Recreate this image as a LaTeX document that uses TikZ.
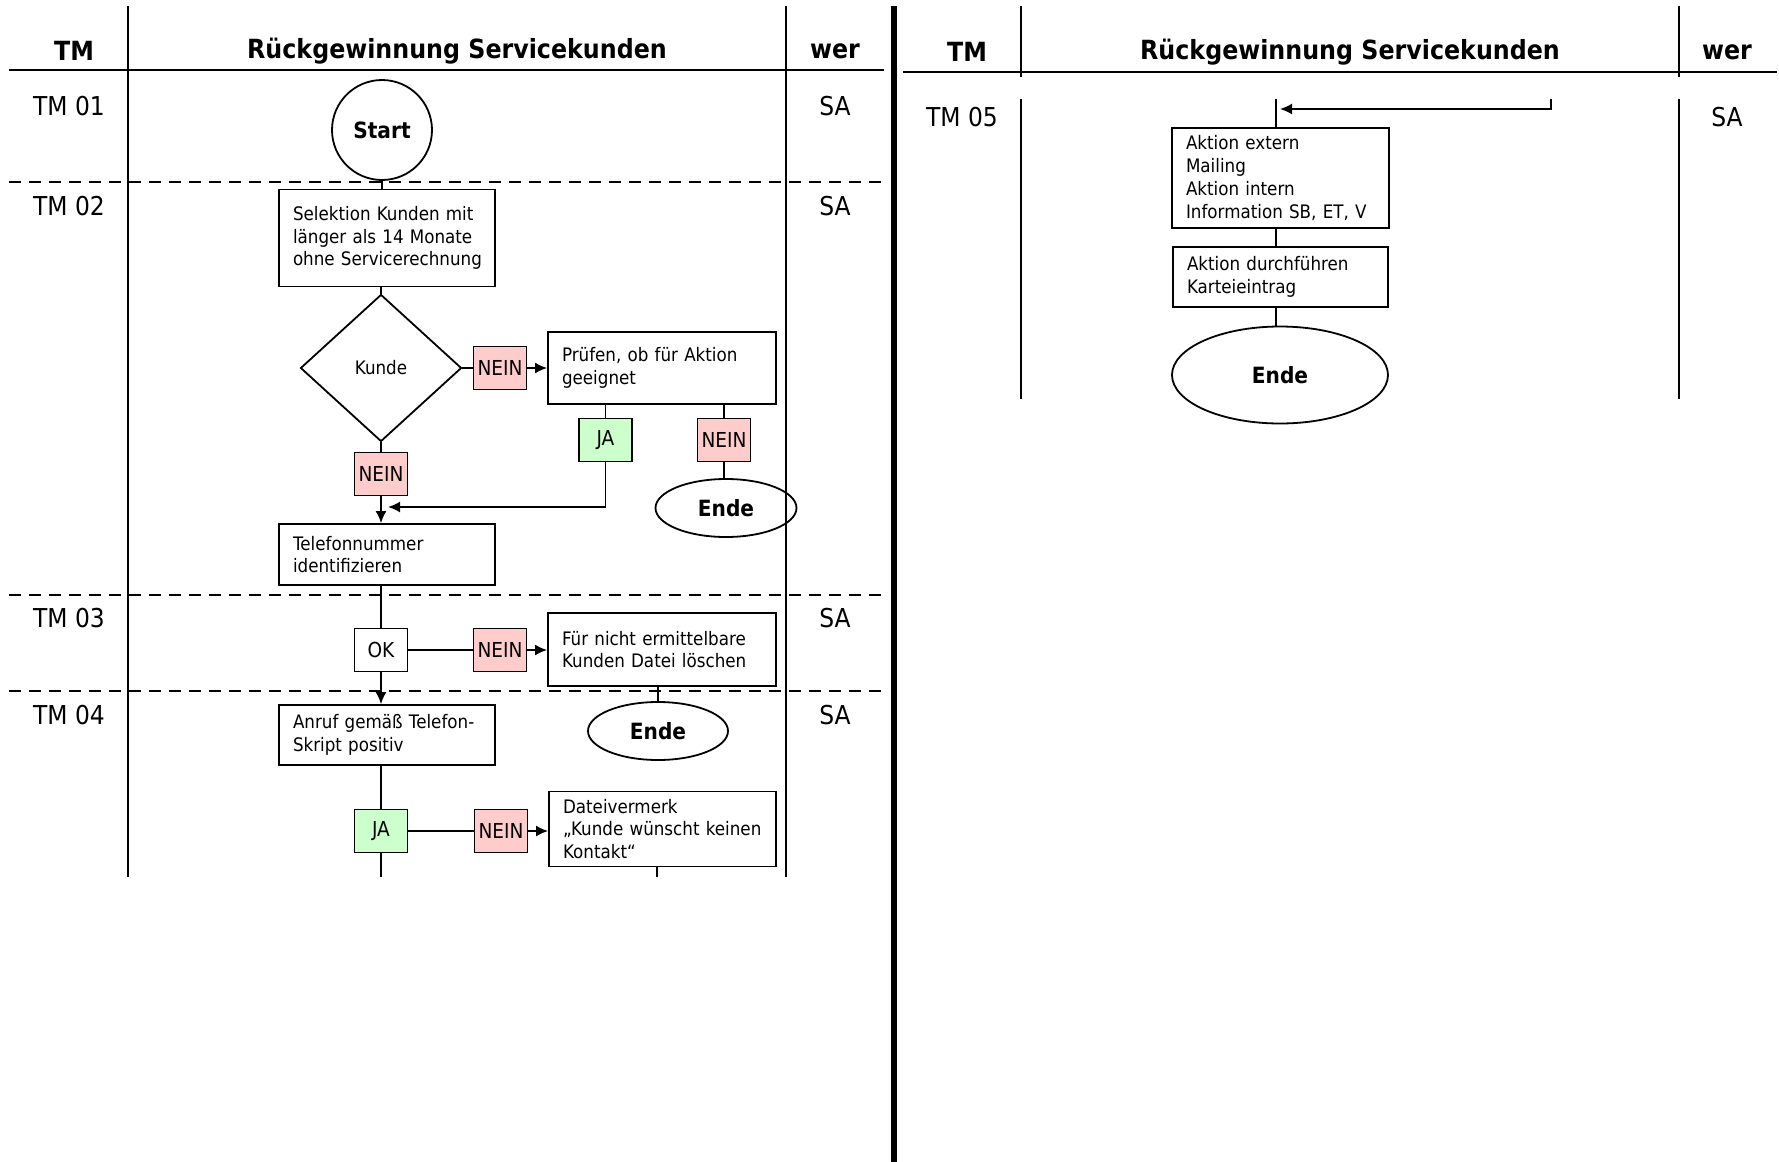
\documentclass[tikz,border=0pt]{standalone}
\usepackage{fontspec}
\setmainfont{DejaVu Sans}[FakeStretch=0.9]
\usetikzlibrary{shapes.geometric,arrows.meta}
\definecolor{pinkc}{RGB}{255,204,204}
\definecolor{greenc}{RGB}{204,255,204}
\begin{document}
\begin{tikzpicture}[x=0.5pt,y=-0.5pt,
 ln/.style={line width=0.9pt},
 frame/.style={line width=0.9pt},
 hline/.style={line width=1.1pt},
 dsh/.style={line width=0.9pt, dash pattern=on 6pt off 4pt},
 box/.style={draw, line width=0.9pt, rectangle, align=left, inner xsep=7pt, inner ysep=0pt, font=\fontsize{9.3}{11.4}\selectfont},
 lbl/.style={draw, line width=0.9pt, minimum width=26.5pt, minimum height=21.5pt, inner sep=0pt, font=\fontsize{10.3}{12}\selectfont},
 nein/.style={lbl, fill=pinkc},
 ja/.style={lbl, fill=greenc},
 term/.style={draw, line width=0.9pt, ellipse, inner sep=0pt, font=\bfseries\fontsize{11.2}{13}\selectfont},
 arr/.style={line width=0.9pt, -{Latex[length=6pt,width=5.5pt]}},
 hd/.style={font=\bfseries\fontsize{13.2}{15}\selectfont},
 tml/.style={font=\fontsize{13}{15}\selectfont},
]
\fill[white] (0,0) rectangle (1779,1162);
\useasboundingbox (0,0) rectangle (1779,1162);

% ---------- left panel frame ----------
\draw[frame] (128,6) -- (128,877);
\draw[frame] (786,6) -- (786,877);
\draw[hline] (9,70) -- (884,70);
\draw[dsh] (9,182) -- (884,182);
\draw[dsh] (9,595) -- (884,595);
\draw[dsh] (9,691) -- (884,691);
\draw[line width=2.6pt] (894,6) -- (894,1162);

\node[hd] (lh1) at (74,51) {TM};
\node[hd] (lh2) at (457,51) {Rückgewinnung Servicekunden};
\node[hd] (lh3) at (835,51) {wer};

\node[tml] (tm1) at (69,106) {TM 01};
\node[tml] (tm2) at (69,206) {TM 02};
\node[tml] (tm3) at (69,618) {TM 03};
\node[tml] (tm4) at (69,715) {TM 04};
\node[tml] (sa1) at (835,106) {SA};
\node[tml] (sa2) at (835,206) {SA};
\node[tml] (sa3) at (835,618) {SA};
\node[tml] (sa4) at (835,715) {SA};

% ---------- left panel nodes ----------
\node[draw, line width=0.9pt, circle, inner sep=0pt, minimum size=50pt, font=\bfseries\fontsize{11.2}{13}\selectfont] (start) at (382,130) {Start};
\node[box, text width=94pt, minimum height=48.5pt] (sel) at (387,238) {\mbox{Selektion Kunden mit}\\\mbox{länger als 14 Monate}\\\mbox{ohne Servicerechnung}};
\node[draw, line width=0.9pt, diamond, inner sep=0pt, minimum width=80.5pt, minimum height=73.5pt, font=\fontsize{9.3}{11}\selectfont] (dia) at (381,368) {Kunde};
\node[nein] (n1) at (500,368) {NEIN};
\node[box, text width=100pt, minimum height=36pt] (pruef) at (662,368) {Prüfen, ob für Aktion\\geeignet};
\node[ja] (ja1) at (605.5,440) {JA};
\node[nein] (n2) at (724,440) {NEIN};
\node[term, minimum width=70.5pt, minimum height=29pt] (ende1) at (726,508) {Ende};
\node[nein] (n3) at (381,474) {NEIN};
\node[box, text width=94pt, minimum height=30.5pt] (tel) at (387,554.5) {Telefonnummer\\identifizieren};
\node[lbl] (ok) at (381,650) {OK};
\node[nein] (n4) at (500,650) {NEIN};
\node[box, text width=100pt, minimum height=36.5pt] (fuer) at (662,649.5) {\mbox{Für nicht ermittelbare}\\\mbox{Kunden Datei löschen}};
\node[term, minimum width=70pt, minimum height=29pt] (ende2) at (658,731) {Ende};
\node[box, text width=94pt, minimum height=30pt] (anruf) at (387,735) {\mbox{Anruf gemäß Telefon-}\\Skript positiv};
\node[ja] (ja2) at (381,831) {JA};
\node[nein] (n5) at (501,831) {NEIN};
\node[box, text width=99.5pt, minimum height=37.5pt] (datei) at (662.5,829) {Dateivermerk\\\mbox{„Kunde wünscht keinen}\\Kontakt“};

\coordinate (merge) at (388,507);
\coordinate (end1) at (381,877);
\coordinate (end2) at (657,877);

% ---------- left connectors ----------
\draw[ln] (start.south) -- (start.south |- sel.north);
\draw[ln] (dia.north |- sel.south) -- (dia.north);
\draw[ln] (dia.east) -- (n1.west);
\draw[arr] (n1.east) -- (pruef.west);
\draw[ln] (ja1.north |- pruef.south) -- (ja1.north);
\draw[ln] (n2.north |- pruef.south) -- (n2.north);
\draw[ln] (n2.south) -- (n2.south |- ende1.north);
\draw[arr] (ja1.south) |- (merge);
\draw[ln] (dia.south) -- (n3.north);
\draw[arr] (n3.south) -- (n3.south |- tel.north);
\draw[ln] (ok.north |- tel.south) -- (ok.north);
\draw[ln] (ok.east) -- (n4.west);
\draw[arr] (n4.east) -- (n4.east -| fuer.west);
\draw[ln] (ende2.north |- fuer.south) -- (ende2.north);
\draw[arr] (ok.south) -- (ok.south |- anruf.north);
\draw[ln] (ja2.north |- anruf.south) -- (ja2.north);
\draw[ln] (ja2.east) -- (n5.west);
\draw[arr] (n5.east) -- (n5.east -| datei.west);
\draw[ln] (ja2.south) -- (end1);
\draw[ln] (end2 |- datei.south) -- (end2);

% ---------- right panel frame ----------
\draw[frame] (1021,6) -- (1021,77);
\draw[frame] (1021,99) -- (1021,399);
\draw[frame] (1679,6) -- (1679,77);
\draw[frame] (1679,99) -- (1679,399);
\draw[hline] (903,72) -- (1777,72);

\node[hd] (rh1) at (967,52) {TM};
\node[hd] (rh2) at (1350,52) {Rückgewinnung Servicekunden};
\node[hd] (rh3) at (1727,52) {wer};
\node[tml] (tm5) at (962,117) {TM 05};
\node[tml] (sa5) at (1727,117) {SA};

% ---------- right panel nodes ----------
\node[box, text width=94.5pt, minimum height=50pt] (aext) at (1280.5,178) {Aktion extern\\Mailing\\Aktion intern\\\mbox{Information SB, ET, V}};
\node[box, text width=93.5pt, minimum height=30pt] (adurch) at (1280.5,277) {\mbox{Aktion durchführen}\\Karteieintrag};
\node[term, minimum width=108pt, minimum height=48.5pt] (ende3) at (1280,375) {Ende};

\coordinate (rtop) at (1276,99);
\coordinate (rsrc) at (1551,99);
\coordinate (rtip) at (1280,109);

\draw[ln] (rtop) -- (rtop |- aext.north);
\draw[arr] (rsrc) |- (rtip);
\draw[ln] (rtop |- aext.south) -- (rtop |- adurch.north);
\draw[ln] (rtop |- adurch.south) -- (rtop |- ende3.north);
\end{tikzpicture}
\end{document}
